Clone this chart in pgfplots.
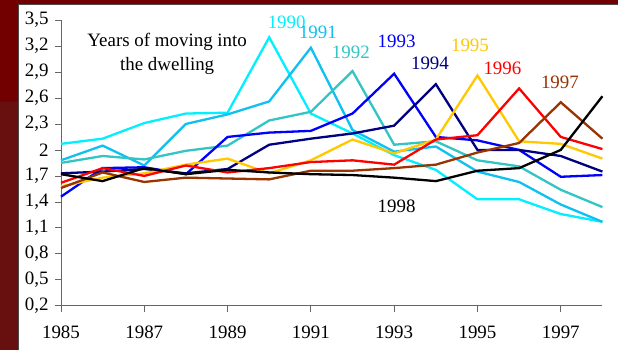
\documentclass[border=0pt]{standalone}
\usepackage{pgfplots}
\pgfplotsset{compat=1.18}
\usepackage{pgfplotstable}
\usepackage{fontspec}
\setmainfont{Liberation Serif}
\definecolor{c1990}{HTML}{00F0FF}
\definecolor{c1991}{HTML}{10C0F0}
\definecolor{c1992}{HTML}{33C4C4}
\definecolor{c1993}{HTML}{0000FF}
\definecolor{c1994}{HTML}{000080}
\definecolor{c1995}{HTML}{FFC800}
\definecolor{c1996}{HTML}{FF0000}
\definecolor{c1997}{HTML}{993300}
\definecolor{c1998}{HTML}{000000}
\definecolor{bgred}{HTML}{720000}
\definecolor{bgred2}{HTML}{681010}
\pgfplotstableread{
year s1990 s1991 s1992 s1993 s1994 s1995 s1996 s1997 s1998
1985 2.07 1.88 1.85 1.46 1.73 1.58 1.62 1.56 1.72
1986 2.13 2.05 1.93 1.79 1.75 1.68 1.79 1.74 1.64
1987 2.31 1.82 1.89 1.80 1.78 1.73 1.70 1.63 1.79
1988 2.42 2.30 1.99 1.72 1.73 1.83 1.82 1.68 1.72
1989 2.43 2.41 2.05 2.15 1.78 1.90 1.74 1.67 1.77
1990 3.30 2.56 2.34 2.20 2.06 1.73 1.79 1.66 1.74
1991 2.42 3.18 2.44 2.22 2.13 1.88 1.86 1.76 1.72
1992 2.19 2.23 2.91 2.42 2.19 2.12 1.88 1.76 1.71
1993 1.94 1.98 2.06 2.88 2.28 1.96 1.83 1.79 1.68
1994 1.77 2.04 2.10 2.15 2.76 2.12 2.12 1.83 1.64
1995 1.43 1.75 1.88 2.11 2.00 2.86 2.17 1.97 1.76
1996 1.43 1.63 1.81 2.00 2.00 2.10 2.71 2.08 1.79
1997 1.26 1.37 1.54 1.69 1.93 2.07 2.15 2.55 2.00
1998 1.17 1.17 1.34 1.71 1.75 1.90 2.01 2.13 2.62
}\datatable
\begin{document}
\fontsize{19}{24}\selectfont
\begin{tikzpicture}
\fill[bgred] (-61bp,-44bp) rectangle (557bp,306bp);
\fill[bgred2] (-61bp,-44bp) rectangle (-43bp,204bp);
\fill[white] (-43bp,-44bp) rectangle (557bp,302bp);
\draw[black!70,line width=0.6bp] (-43bp,-44bp) -- (-43bp,302bp) -- (557bp,302bp);
\path[use as bounding box] (-61bp,-44bp) rectangle (557bp,306bp);
\begin{axis}[
  at={(0,0)}, anchor=south west,
  scale only axis,
  width=541.7bp, height=286bp,
  xmin=1985, xmax=1998, ymin=0.2, ymax=3.5,
  axis lines=left,
  axis line style={-, draw=gray!80!black, line width=0.8bp},
  tick style={draw=gray!80!black, line width=0.8bp},
  tick align=outside,
  major tick length=6bp,
  xtick={1985,1987,1989,1991,1993,1995,1997},
  ytick={0.2,0.5,0.8,1.1,1.4,1.7,2,2.3,2.6,2.9,3.2,3.5},
  /pgf/number format/assume math mode=true,
  x tick label style={/pgf/number format/1000 sep={}, font=\fontsize{19}{24}\selectfont},
  y tick label style={/pgf/number format/use comma, font=\fontsize{19}{24}\selectfont},
  xticklabel style={yshift=-8bp},
  clip=false,
  every axis plot/.append style={line width=2.3bp, mark=none, line join=miter},
]
\addplot[c1990] table[x=year,y=s1990] {\datatable};
\addplot[c1991] table[x=year,y=s1991] {\datatable};
\addplot[c1992] table[x=year,y=s1992] {\datatable};
\addplot[c1993] table[x=year,y=s1993] {\datatable};
\addplot[c1994] table[x=year,y=s1994] {\datatable};
\addplot[c1995] table[x=year,y=s1995] {\datatable};
\addplot[c1996] table[x=year,y=s1996] {\datatable};
\addplot[c1997] table[x=year,y=s1997] {\datatable};
\addplot[c1998] table[x=year,y=s1998] {\datatable};
\node[c1990] at (axis cs:1990.42,3.47) {1990};
\node[c1991] at (axis cs:1991.17,3.36) {1991};
\node[c1992] at (axis cs:1991.96,3.13) {1992};
\node[c1993] at (axis cs:1993.06,3.25) {1993};
\node[c1994] at (axis cs:1993.86,3.00) {1994};
\node[c1995] at (axis cs:1994.82,3.21) {1995};
\node[c1996] at (axis cs:1995.60,2.94) {1996};
\node[c1997] at (axis cs:1996.98,2.78) {1997};
\node[c1998] at (axis cs:1993.06,1.35) {1998};
\node[align=center, inner sep=0pt] at (axis cs:1987.55,3.11) {Years of moving into\\the dwelling};
\end{axis}
\end{tikzpicture}
\end{document}
